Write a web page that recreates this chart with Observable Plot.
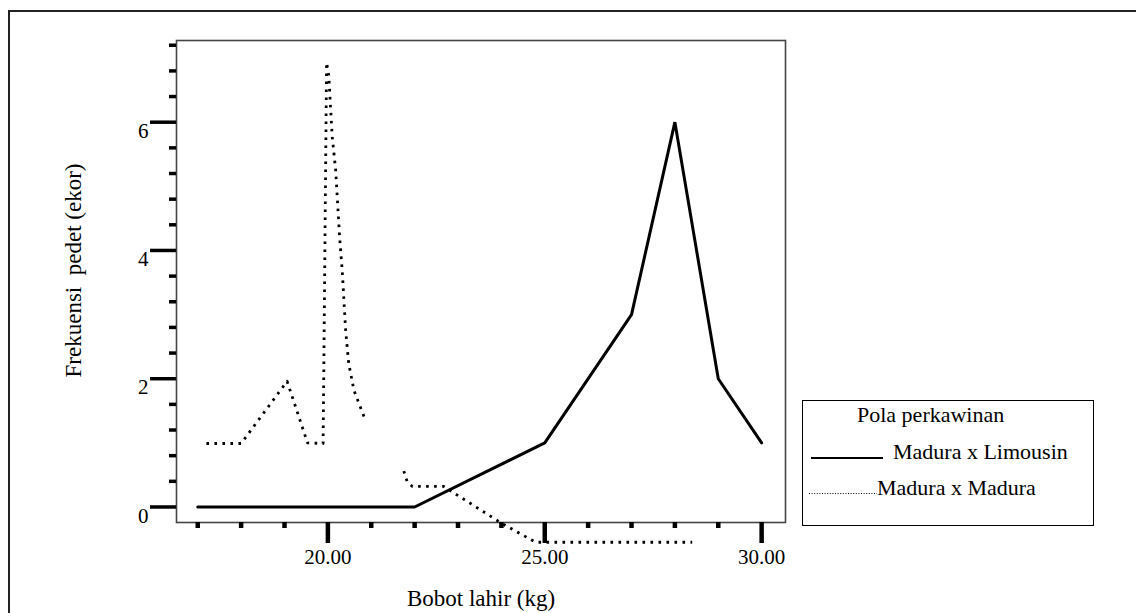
<!DOCTYPE html>
<html>
<head>
<meta charset="utf-8">
<script src="https://cdn.jsdelivr.net/npm/d3@7"></script>
<script src="https://cdn.jsdelivr.net/npm/@observablehq/plot@0.6"></script>
<style>
  html, body { margin: 0; padding: 0; background: #fff; overflow: hidden; }
  #wrap { position: relative; width: 1136px; height: 613px; overflow: hidden; font-family: "Liberation Serif", "Times New Roman", serif; }
  #outer { position: absolute; left: 8px; top: 10px; width: 1300px; height: 800px; border: 2px solid #222; box-sizing: border-box; }
  #chart { position: absolute; left: 0; top: 0; }
  #legend { position: absolute; left: 802px; top: 400px; width: 292px; height: 126px; border: 1.5px solid #000; box-sizing: border-box; background: #fff; }
  #legend .t { position: absolute; font-size: 22px; line-height: 1; white-space: nowrap; color: #000; }
  #legend svg { position: absolute; left: 0; top: 0; }
</style>
</head>
<body>
<div id="wrap">
  <div id="outer"></div>
  <div id="chart"></div>
  <div id="legend">
    <svg width="292" height="126">
      <line x1="8" x2="80" y1="57" y2="57" stroke="#000" stroke-width="2.2"></line>
      <line x1="6" x2="74" y1="92.5" y2="92.5" stroke="#000" stroke-width="1" stroke-dasharray="1,1.6"></line>
    </svg>
    <div class="t" style="left:54px; top:3px;">Pola perkawinan</div>
    <div class="t" style="left:90px; top:40px;">Madura x Limousin</div>
    <div class="t" style="left:74px; top:76px;">Madura x Madura</div>
  </div>
</div>
<script>
// Madura x Limousin (solid line)
const limX = [17, 22, 25, 27, 28, 29, 30];
const limY = [0, 0, 1, 3, 6, 2, 1];

// Madura x Madura (dotted line, as drawn in the figure, two pieces)
const madAX = [17.2, 18.0, 19.06, 19.53, 19.89, 19.91, 19.97, 20.02, 20.10, 20.18, 20.27, 20.33, 20.41, 20.48, 20.60, 20.85];
const madAY = [0.99, 0.99, 1.96, 1.0, 0.99, 2.44, 6.93, 6.73, 5.77, 5.25, 4.21, 3.69, 2.75, 2.24, 1.82, 1.38];
const madBX = [21.75, 21.83, 21.95, 22.67, 24.02, 24.79, 28.40];
const madBY = [0.56, 0.39, 0.32, 0.32, -0.26, -0.55, -0.55];

// Axis ticks
const xMajor = [20, 25, 30];
const xMinor = [17, 18, 19, 21, 22, 23, 24, 26, 27, 28, 29];
const yMajor = [0, 2, 4, 6];
const yMinor = [0.4, 0.8, 1.2, 1.6, 2.4, 2.8, 3.2, 3.6, 4.4, 4.8, 5.2, 5.6, 6.4, 6.8, 7.2];

const xTitle = "Bobot lahir (kg)";
const yTitle = "Frekuensi\u00A0 pedet (ekor)";

const lim = limX.map((x, i) => ({x, y: limY[i]}));
const mad = [
  ...madAX.map((x, i) => ({x, y: madAY[i], seg: "A"})),
  ...madBX.map((x, i) => ({x, y: madBY[i], seg: "B"}))
];

const serif = "'Liberation Serif', 'Times New Roman', serif";

const chart = Plot.plot({
  width: 1136,
  height: 613,
  marginLeft: 176,
  marginRight: 351,
  marginTop: 40,
  marginBottom: 91,
  style: {fontFamily: serif, fontSize: "21px", background: "transparent", color: "#000"},
  x: {domain: [16.51, 30.55]},
  y: {domain: [-0.242, 7.274]},
  marks: [
    Plot.frame({stroke: "#444", strokeWidth: 1.6}),
    Plot.axisX(xMinor, {tickSize: 6, strokeWidth: 4.5, tickFormat: () => "", label: null, stroke: "#000"}),
    Plot.axisX(xMajor, {tickSize: 21, strokeWidth: 4.5, tickFormat: () => "", label: null, stroke: "#000"}),
    Plot.axisY(yMinor, {tickSize: 7, strokeWidth: 3.5, tickFormat: () => "", label: null, stroke: "#000"}),
    Plot.axisY(yMajor, {tickSize: 26, strokeWidth: 3.5, tickFormat: () => "", label: null, stroke: "#000"}),
    Plot.text(xMajor, {x: d => d, frameAnchor: "bottom", dy: 35, lineAnchor: "middle", textAnchor: "middle", text: d => d.toFixed(2), fontSize: 21, fontFamily: serif, fill: "#000"}),
    Plot.text(yMajor, {y: d => d, frameAnchor: "left", dx: -28, dy: 9, textAnchor: "end", lineAnchor: "middle", text: d => String(d), fontSize: 21, fontFamily: serif, fill: "#000"}),
    Plot.text([xTitle], {frameAnchor: "bottom", dy: 76, lineAnchor: "middle", textAnchor: "middle", fontSize: 23, fontFamily: serif, fill: "#000"}),
    Plot.text([yTitle], {frameAnchor: "left", dx: -103, dy: -11, rotate: -90, lineAnchor: "middle", textAnchor: "middle", fontSize: 23, fontFamily: serif, fill: "#000"}),
    Plot.line(lim, {x: "x", y: "y", stroke: "#000", strokeWidth: 3, strokeLinejoin: "miter", clip: false}),
    Plot.line(mad, {x: "x", y: "y", z: "seg", stroke: "#000", strokeWidth: 2.8, strokeDasharray: "2.6,5.4", strokeLinecap: "butt", clip: false})
  ]
});
document.getElementById("chart").appendChild(chart);
</script>
</body>
</html>
